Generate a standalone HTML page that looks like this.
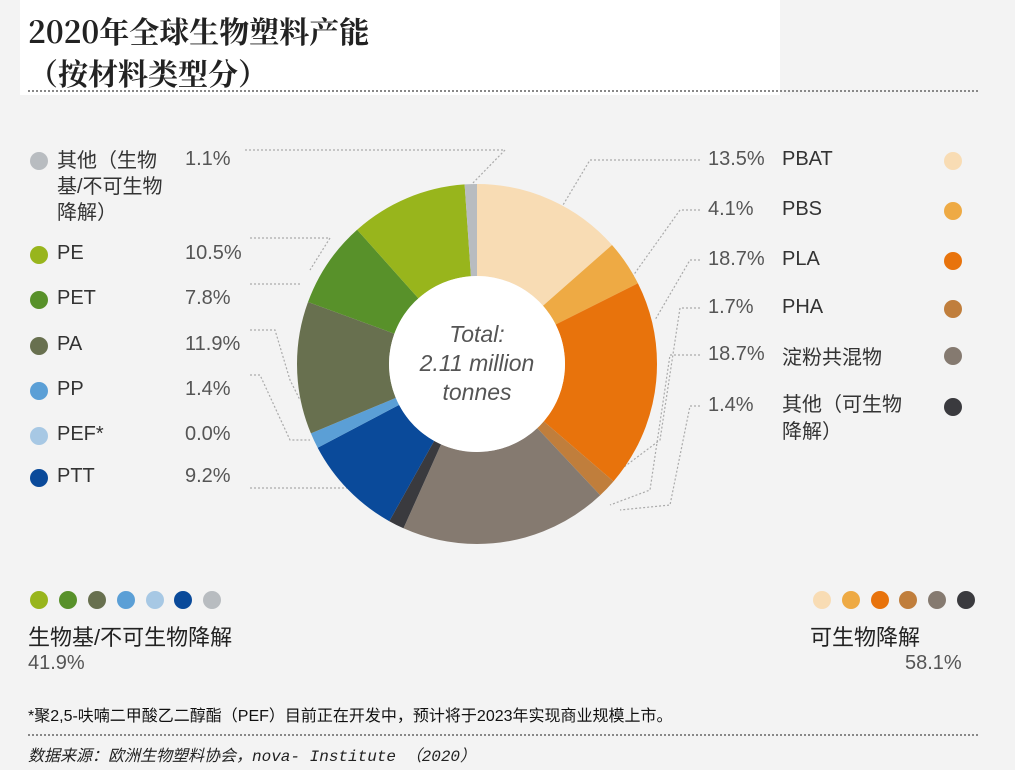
<!DOCTYPE html>
<html><head><meta charset="utf-8"><style>
body{margin:0;width:1015px;height:770px;background:#f3f3f3;position:relative;overflow:hidden;font-family:"Liberation Sans","Noto Sans CJK SC",sans-serif;color:#333}
.t{position:absolute;white-space:nowrap}
.d{position:absolute;width:18px;height:18px;border-radius:50%}
.w{position:absolute;background:#fff}
.p{font-size:20px;color:#555}
.l{font-size:20px;color:#333}
</style></head><body>
<div class="w" style="left:20px;top:0;width:760px;height:95px"></div>
<div class="t" style="left:28px;top:8px;font-family:'Noto Serif CJK SC','Liberation Serif',serif;font-weight:bold;font-size:30px;color:#222">2020年全球生物塑料产能</div>
<div class="t" style="left:28px;top:50px;font-family:'Noto Serif CJK SC','Liberation Serif',serif;font-weight:bold;font-size:30px;color:#222">（按材料类型分）</div>
<div style="position:absolute;left:28px;top:90px;width:950px;border-top:2px dotted #888"></div>

<svg width="1015" height="770" style="position:absolute;left:0;top:0">
<g fill="none" stroke="#aaa" stroke-width="1.2" stroke-dasharray="2 2">
<polyline points="245,150 505,150 470,186"/>
<polyline points="250,238 330,238 310,270"/>
<polyline points="250,284 300,284"/>
<polyline points="250,330 275,330 290,380 300,400"/>
<polyline points="250,375 260,375 290,440 310,440"/>
<polyline points="250,488 380,488"/>
<polyline points="700,160 590,160 560,210"/>
<polyline points="700,210 680,210 630,280"/>
<polyline points="700,260 690,260 655,320"/>
<polyline points="700,308 680,308 660,440 620,470"/>
<polyline points="700,355 670,355 650,490 610,505"/>
<polyline points="700,406 690,406 670,505 620,510"/>
</g>
<g transform="rotate(-90 477 364)" fill="none" stroke-width="92">
<circle cx="477" cy="364" r="134" pathLength="100" stroke="#f8dcb4" stroke-dasharray="13.5 86.5" stroke-dashoffset="0"/>
<circle cx="477" cy="364" r="134" pathLength="100" stroke="#eeaa44" stroke-dasharray="4.1 95.9" stroke-dashoffset="-13.5"/>
<circle cx="477" cy="364" r="134" pathLength="100" stroke="#e8730c" stroke-dasharray="18.7 81.3" stroke-dashoffset="-17.6"/>
<circle cx="477" cy="364" r="134" pathLength="100" stroke="#c07e3c" stroke-dasharray="1.7 98.3" stroke-dashoffset="-36.3"/>
<circle cx="477" cy="364" r="134" pathLength="100" stroke="#857a70" stroke-dasharray="18.7 81.3" stroke-dashoffset="-38"/>
<circle cx="477" cy="364" r="134" pathLength="100" stroke="#3a3a3e" stroke-dasharray="1.4 98.6" stroke-dashoffset="-56.7"/>
<circle cx="477" cy="364" r="134" pathLength="100" stroke="#0a4a9a" stroke-dasharray="9.2 90.8" stroke-dashoffset="-58.1"/>
<circle cx="477" cy="364" r="134" pathLength="100" stroke="#5b9fd6" stroke-dasharray="1.4 98.6" stroke-dashoffset="-67.3"/>
<circle cx="477" cy="364" r="134" pathLength="100" stroke="#68704f" stroke-dasharray="11.9 88.1" stroke-dashoffset="-68.7"/>
<circle cx="477" cy="364" r="134" pathLength="100" stroke="#58912a" stroke-dasharray="7.8 92.2" stroke-dashoffset="-80.6"/>
<circle cx="477" cy="364" r="134" pathLength="100" stroke="#98b51c" stroke-dasharray="10.5 89.5" stroke-dashoffset="-88.4"/>
<circle cx="477" cy="364" r="134" pathLength="100" stroke="#b8bcc0" stroke-dasharray="1.1 98.9" stroke-dashoffset="-98.9"/>
</g>
<circle cx="477" cy="364" r="88" fill="#fff"/>
<g font-family="Liberation Sans,sans-serif" font-style="italic" font-size="23" fill="#555" text-anchor="middle">
<text x="477" y="342">Total:</text><text x="477" y="371">2.11 million</text><text x="477" y="400">tonnes</text>
</g>
</svg>

<div class="d" style="left:30px;top:152px;background:#b8bcc0"></div>
<div class="t l" style="left:57px;top:148px;line-height:26px">其他（生物<br>基/不可生物<br>降解）</div>
<div class="t p" style="left:185px;top:148px">1.1%</div>
<div class="d" style="left:30px;top:246px;background:#98b51c"></div><div class="t l" style="left:57px;top:242px">PE</div><div class="t p" style="left:185px;top:242px">10.5%</div>
<div class="d" style="left:30px;top:291px;background:#58912a"></div><div class="t l" style="left:57px;top:287px">PET</div><div class="t p" style="left:185px;top:287px">7.8%</div>
<div class="d" style="left:30px;top:337px;background:#68704f"></div><div class="t l" style="left:57px;top:333px">PA</div><div class="t p" style="left:185px;top:333px">11.9%</div>
<div class="d" style="left:30px;top:382px;background:#5b9fd6"></div><div class="t l" style="left:57px;top:378px">PP</div><div class="t p" style="left:185px;top:378px">1.4%</div>
<div class="d" style="left:30px;top:427px;background:#a7c8e4"></div><div class="t l" style="left:57px;top:423px">PEF*</div><div class="t p" style="left:185px;top:423px">0.0%</div>
<div class="d" style="left:30px;top:469px;background:#0a4a9a"></div><div class="t l" style="left:57px;top:465px">PTT</div><div class="t p" style="left:185px;top:465px">9.2%</div>

<div class="t p" style="left:708px;top:148px">13.5%</div><div class="t l" style="left:782px;top:148px">PBAT</div><div class="d" style="left:944px;top:152px;background:#f8dcb4"></div>
<div class="t p" style="left:708px;top:198px">4.1%</div><div class="t l" style="left:782px;top:198px">PBS</div><div class="d" style="left:944px;top:202px;background:#eeaa44"></div>
<div class="t p" style="left:708px;top:248px">18.7%</div><div class="t l" style="left:782px;top:248px">PLA</div><div class="d" style="left:944px;top:252px;background:#e8730c"></div>
<div class="t p" style="left:708px;top:296px">1.7%</div><div class="t l" style="left:782px;top:296px">PHA</div><div class="d" style="left:944px;top:300px;background:#c07e3c"></div>
<div class="t p" style="left:708px;top:343px">18.7%</div><div class="t l" style="left:782px;top:341px">淀粉共混物</div><div class="d" style="left:944px;top:347px;background:#857a70"></div>
<div class="t p" style="left:708px;top:394px">1.4%</div><div class="t l" style="left:782px;top:392px;line-height:27px">其他（可生物<br>降解）</div><div class="d" style="left:944px;top:398px;background:#3a3a3e"></div>

<div class="d" style="left:30px;top:591px;background:#98b51c"></div>
<div class="d" style="left:59px;top:591px;background:#58912a"></div>
<div class="d" style="left:88px;top:591px;background:#68704f"></div>
<div class="d" style="left:117px;top:591px;background:#5b9fd6"></div>
<div class="d" style="left:146px;top:591px;background:#a7c8e4"></div>
<div class="d" style="left:174px;top:591px;background:#0a4a9a"></div>
<div class="d" style="left:203px;top:591px;background:#b8bcc0"></div>
<div class="d" style="left:813px;top:591px;background:#f8dcb4"></div>
<div class="d" style="left:842px;top:591px;background:#eeaa44"></div>
<div class="d" style="left:871px;top:591px;background:#e8730c"></div>
<div class="d" style="left:899px;top:591px;background:#c07e3c"></div>
<div class="d" style="left:928px;top:591px;background:#857a70"></div>
<div class="d" style="left:957px;top:591px;background:#3a3a3e"></div>

<div class="t" style="left:28px;top:620px;font-size:22px;color:#222">生物基/不可生物降解</div>
<div class="t p" style="left:28px;top:652px">41.9%</div>
<div class="t" style="left:810px;top:620px;font-size:22px;color:#222">可生物降解</div>
<div class="t p" style="left:905px;top:652px">58.1%</div>
<div class="t" style="left:28px;top:702px;font-size:16px;color:#111">*聚2,5-呋喃二甲酸乙二醇酯（PEF）目前正在开发中，预计将于2023年实现商业规模上市。</div>
<div style="position:absolute;left:28px;top:734px;width:950px;border-top:2px dotted #888"></div>
<div class="t" style="left:28px;top:742px;font-size:16px;font-style:italic;color:#222;font-family:'Liberation Mono','Noto Sans CJK SC',monospace">数据来源：欧洲生物塑料协会，nova- Institute （2020）</div>
</body></html>
